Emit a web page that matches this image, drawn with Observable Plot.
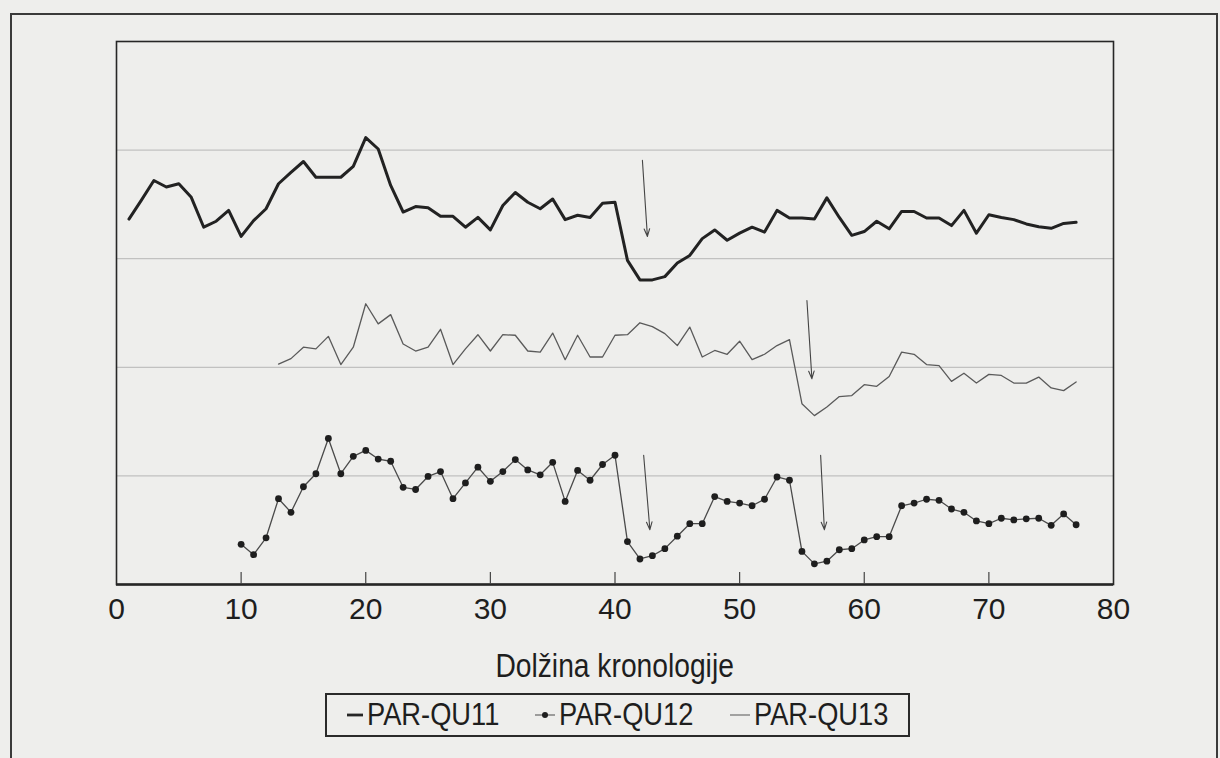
<!DOCTYPE html>
<html>
<head>
<meta charset="utf-8">
<script src="https://cdn.jsdelivr.net/npm/d3@7"></script>
<script src="https://cdn.jsdelivr.net/npm/@observablehq/plot@0.6"></script>
<style>
  html, body { margin: 0; padding: 0; }
  body { width: 1220px; height: 758px; background: #eeeeec; position: relative; overflow: hidden;
         font-family: "Liberation Sans", Arial, sans-serif; color: #1e1e1e; }
  #outer { position: absolute; left: 10px; top: 13px; width: 1204px; height: 780px; border: 2px solid #3a3a3a; }
  #chart { position: absolute; left: 0; top: 0; }
  #xtitle { position: absolute; left: 0; width: 1230px; top: 646px; text-align: center; font-size: 34px; }
  #xtitle span { display: inline-block; transform: scaleX(0.83); }
  #legend { position: absolute; left: 325px; top: 693px; width: 585px; height: 44px; border: 2px solid #2a2a2a;
            display: flex; align-items: center; justify-content: space-around; font-size: 31px; box-sizing: border-box; padding: 0 2px; }
  .item { display: flex; align-items: center; }
  .item svg { margin-right: 3px; }
  .lab { display: inline-block; transform: scaleX(0.88); transform-origin: left center; margin-right: -18px; }
</style>
</head>
<body>
<div id="outer"></div>
<div id="chart"></div>
<div id="xtitle"><span></span></div>
<div id="legend"></div>
<script>
// ---- data (y is an unlabelled relative index 0-100) ----
const seriesNames = ["PAR-QU11", "PAR-QU12", "PAR-QU13"];

const qu11Start = 1;
const qu11Values = [67.3, 70.8, 74.4, 73.2, 73.8, 71.3, 65.8, 66.9, 68.9, 64.1,
  67.0, 69.2, 73.8, 75.9, 77.9, 75.0, 75.0, 75.0, 77.0, 82.3,
  80.2, 73.5, 68.6, 69.6, 69.4, 67.8, 67.8, 65.8, 67.6, 65.3,
  69.8, 72.2, 70.4, 69.2, 71.0, 67.2, 68.0, 67.6, 70.2, 70.4,
  59.7, 56.1, 56.1, 56.7, 59.2, 60.6, 63.7, 65.3, 63.4, 64.7,
  65.8, 64.9, 68.9, 67.5, 67.5, 67.3, 71.2, 67.6, 64.3, 65.0,
  66.9, 65.5, 68.7, 68.7, 67.5, 67.5, 66.1, 68.9, 64.7, 68.1,
  67.6, 67.2, 66.4, 65.9, 65.6, 66.5, 66.7];

const qu12Start = 10;
const qu12Values = [7.4, 5.5, 8.6, 15.8, 13.3, 18.0, 20.4, 26.9, 20.4, 23.6,
  24.7, 23.1, 22.7, 17.9, 17.5, 19.9, 20.8, 15.8, 18.7, 21.6,
  19.0, 20.8, 23.0, 21.1, 20.2, 22.5, 15.3, 21.0, 19.2, 22.1,
  23.8, 7.9, 4.7, 5.3, 6.6, 8.9, 11.2, 11.2, 16.2, 15.3,
  15.0, 14.5, 15.7, 19.8, 19.2, 6.1, 3.8, 4.3, 6.4, 6.6,
  8.2, 8.8, 8.8, 14.5, 15.0, 15.7, 15.5, 13.9, 13.3, 11.7,
  11.2, 12.2, 11.9, 12.1, 12.2, 10.9, 13.0, 11.0];

const qu13Start = 13;
const qu13Values = [40.6, 41.6, 43.7, 43.4, 45.7, 40.5, 43.7, 51.7, 48.0, 49.7,
  44.3, 43.0, 43.7, 47.0, 40.5, 43.4, 46.0, 43.0, 46.0, 45.9,
  43.0, 42.8, 46.3, 41.4, 45.9, 41.9, 41.9, 45.9, 46.0, 48.2,
  47.5, 46.2, 44.0, 47.4, 41.9, 43.1, 42.4, 44.8, 41.4, 42.4,
  44.0, 45.1, 33.3, 31.1, 32.7, 34.6, 34.8, 36.8, 36.5, 38.3,
  42.8, 42.4, 40.5, 40.3, 37.4, 38.9, 37.1, 38.7, 38.5, 37.1,
  37.1, 38.2, 36.2, 35.7, 37.3];

// annotation arrows marking the drops (x = chronology length, y = index)
const arrowX1 = [42.2, 55.4, 42.3, 56.5];
const arrowY1 = [78.1, 52.3, 23.8, 23.8];
const arrowX2 = [42.6, 55.8, 42.8, 56.8];
const arrowY2 = [64.1, 37.9, 10.1, 10.1];

const xTickLabels = [0, 10, 20, 30, 40, 50, 60, 70, 80];
const xTickMarks = [10, 20, 30, 40, 50, 60, 70];
const yGrid = [20, 40, 60, 80];
const xTitle = "Dolžina kronologije";

// ---- tables built from the arrays ----
const toRows = (start, vals) => vals.map((v, i) => ({x: start + i, y: v}));
const qu11 = toRows(qu11Start, qu11Values);
const qu12 = toRows(qu12Start, qu12Values);
const qu13 = toRows(qu13Start, qu13Values);
const arrows = arrowX1.map((d, i) => ({x1: d, y1: arrowY1[i], x2: arrowX2[i], y2: arrowY2[i]}));

const font = '"Liberation Sans", Arial, sans-serif';

const chart = Plot.plot({
  width: 1220,
  height: 640,
  marginLeft: 116,
  marginRight: 107,
  marginTop: 41,
  marginBottom: 56,
  style: {background: "transparent", fontFamily: font, fontSize: "30px", color: "#1e1e1e"},
  x: {domain: [0, 80]},
  y: {domain: [0, 100], axis: null},
  marks: [
    Plot.gridY(yGrid, {stroke: "#8a8a8a", strokeOpacity: 0.55, strokeWidth: 1}),
    Plot.frame({stroke: "#262626", strokeWidth: 1.6}),
    Plot.ruleY([0], {stroke: "#262626", strokeWidth: 2.6}),
    Plot.tickX(xTickMarks, {x: d => d, stroke: "#444", strokeWidth: 1.2, insetTop: 531}),
    Plot.axisX(xTickLabels, {tickSize: 0, tickPadding: 13, fontSize: 30, label: null}),
    Plot.line(qu13, {x: "x", y: "y", stroke: "#5a5a5a", strokeWidth: 1.3}),
    Plot.line(qu12, {x: "x", y: "y", stroke: "#4a4a4a", strokeWidth: 1.3}),
    Plot.dot(qu12, {x: "x", y: "y", r: 3.4, fill: "#1e1e1e", stroke: "none"}),
    Plot.line(qu11, {x: "x", y: "y", stroke: "#222", strokeWidth: 3}),
    Plot.arrow(arrows, {x1: "x1", y1: "y1", x2: "x2", y2: "y2", stroke: "#444", strokeWidth: 1.1, headLength: 11, headAngle: 40})
  ]
});
document.getElementById("chart").appendChild(chart);
document.querySelector("#xtitle span").textContent = xTitle;

// ---- legend ----
const swatches = [
  '<svg width="18" height="20"><line x1="1" y1="10" x2="17" y2="10" stroke="#262626" stroke-width="2.8"/></svg>',
  '<svg width="22" height="20"><line x1="1" y1="10" x2="21" y2="10" stroke="#666" stroke-width="1.2"/><circle cx="11" cy="10" r="3" fill="#1e1e1e"/></svg>',
  '<svg width="22" height="20"><line x1="1" y1="10" x2="21" y2="10" stroke="#777" stroke-width="1.3"/></svg>'
];
document.getElementById("legend").innerHTML = seriesNames.map((n, i) =>
  `<span class="item">${swatches[i]}<span class="lab">${n}</span></span>`).join("");
</script>
</body>
</html>
